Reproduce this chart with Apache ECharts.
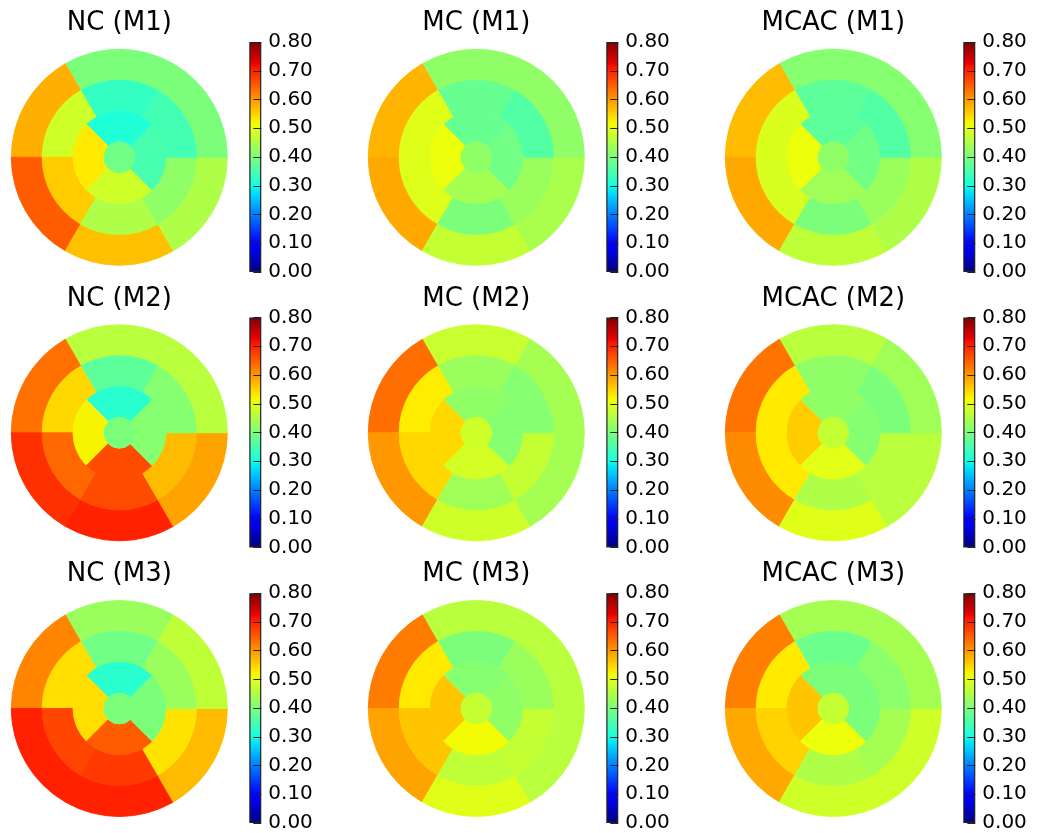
<!DOCTYPE html>
<html>
<head>
<meta charset="utf-8">
<script src="https://cdn.jsdelivr.net/npm/echarts@6/dist/echarts.min.js"></script>
<style>
  html, body { margin: 0; padding: 0; background: #fff; }
  #chart { width: 1039px; height: 833px; }
</style>
</head>
<body>
<div id="chart"></div>
<script>
// Segment order of every 17-value array:
//   basal ring  (6 segments, counter-clockwise from 60°): top, upper-left, lower-left, bottom, lower-right, upper-right
//   mid ring    (6 segments, same order)
//   apical ring (4 segments, counter-clockwise from 45°): top, left, bottom, right
//   apex        (1 segment)
const panelTitles = [
  'NC (M1)', 'MC (M1)', 'MCAC (M1)',
  'NC (M2)', 'MC (M2)', 'MCAC (M2)',
  'NC (M3)', 'MC (M3)', 'MCAC (M3)'
];

const ncM1   = [0.40, 0.58, 0.65, 0.565, 0.45, 0.40,   0.33, 0.48, 0.555, 0.45, 0.42, 0.345,  0.31, 0.53, 0.48, 0.35,   0.39];
const mcM1   = [0.42, 0.575, 0.585, 0.47, 0.445, 0.42, 0.38, 0.497, 0.495, 0.40, 0.43, 0.36,  0.38, 0.51, 0.44, 0.39,   0.42];
const mcacM1 = [0.41, 0.57, 0.585, 0.466, 0.45, 0.41,  0.37, 0.492, 0.49, 0.40, 0.43, 0.36,   0.37, 0.51, 0.435, 0.39,  0.42];

const ncM2   = [0.46, 0.633, 0.687, 0.70, 0.59, 0.46,  0.37, 0.545, 0.64, 0.665, 0.57, 0.41, 0.32, 0.52, 0.665, 0.41,  0.40];
const mcM2   = [0.475, 0.635, 0.60, 0.48, 0.44, 0.44,  0.43, 0.527, 0.545, 0.435, 0.47, 0.41, 0.42, 0.545, 0.485, 0.41, 0.48];
const mcacM2 = [0.46, 0.63, 0.61, 0.497, 0.46, 0.435,  0.42, 0.53, 0.53, 0.45, 0.46, 0.40,    0.42, 0.555, 0.50, 0.41,  0.47];

const ncM3   = [0.43, 0.615, 0.70, 0.70, 0.57, 0.466,  0.39, 0.54, 0.67, 0.68, 0.535, 0.43,  0.32, 0.54, 0.65, 0.40,   0.40];
const mcM3   = [0.46, 0.623, 0.59, 0.497, 0.46, 0.46,  0.40, 0.53, 0.56, 0.466, 0.47, 0.43,  0.41, 0.56, 0.515, 0.42,  0.47];
const mcacM3 = [0.44, 0.62, 0.585, 0.48, 0.48, 0.44,   0.385, 0.53, 0.55, 0.45, 0.44, 0.415, 0.40, 0.56, 0.51, 0.40,   0.47];

const panelValues = [ncM1, mcM1, mcacM1, ncM2, mcM2, mcacM2, ncM3, mcM3, mcacM3];

// Colour scale shared by all panels
const scaleMin = 0;
const scaleMax = 0.8;
const scaleStep = 0.1;

// ---------- layout ----------
const colX = [119.3, 476.3, 833.3];
const rowY = [157.3, 432.8, 708.5];
const R = 108;
const FONT = '"DejaVu Sans", Verdana, sans-serif';

// ring geometry: [first segment, count, inner radius, outer radius, start angle]
const rings = [
  [0, 6, 5 / 7, 1, 60],
  [6, 6, 3 / 7, 5 / 7, 60],
  [12, 4, 1 / 7, 3 / 7, 45],
  [16, 1, 0, 1 / 7, 90]
];

// matplotlib "jet" colormap, piecewise linear per channel
function channel(pts, t) {
  for (let i = 1; i < pts.length; i++) {
    if (t <= pts[i][0]) {
      const [x0, y0] = pts[i - 1], [x1, y1] = pts[i];
      return y0 + (y1 - y0) * (t - x0) / (x1 - x0);
    }
  }
  return pts[pts.length - 1][1];
}
function jet(t) {
  t = Math.max(0, Math.min(1, t));
  const r = channel([[0, 0], [0.35, 0], [0.66, 1], [0.89, 1], [1, 0.5]], t);
  const g = channel([[0, 0], [0.125, 0], [0.375, 1], [0.64, 1], [0.91, 0], [1, 0]], t);
  const b = channel([[0, 0.5], [0.11, 1], [0.34, 1], [0.65, 0], [1, 0]], t);
  const h = v => Math.round(Math.max(0, Math.min(1, v)) * 255).toString(16).padStart(2, '0');
  return '#' + h(r) + h(g) + h(b);
}
const jetColors = [];
for (let i = 0; i <= 100; i++) jetColors.push(jet(i / 100));
const scaleColor = v => jet((v - scaleMin) / (scaleMax - scaleMin));

const series = [];
const pieIndices = [];
const grids = [], xAxes = [], yAxes = [], titles = [];

panelValues.forEach((vals, p) => {
  const cx = colX[p % 3];
  const cy = rowY[Math.floor(p / 3)];

  rings.forEach(([start, n, r0, r1, ang]) => {
    pieIndices.push(series.length);
    series.push({
      type: 'pie',
      center: [cx, cy],
      radius: [r0 * R, r1 * R],
      startAngle: ang,
      clockwise: false,
      avoidLabelOverlap: false,
      silent: true,
      animation: false,
      label: { show: false },
      labelLine: { show: false },
      emphasis: { disabled: true },
      // equal-sized slices; second dimension carries the segment value.
      // A hairline border in the slice's own colour closes anti-aliasing seams.
      data: vals.slice(start, start + n).map(v => ({
        value: [1, v],
        itemStyle: { borderColor: scaleColor(v), borderWidth: 0.9 }
      }))
    });
  });

  // colour bar
  grids.push({ left: cx + 130, top: cy - 115.3, width: 12, height: 230 });
  xAxes.push({ type: 'category', gridIndex: p, data: [''], show: false });
  yAxes.push({
    type: 'value', gridIndex: p, position: 'right', z: 5,
    min: scaleMin, max: scaleMax, interval: scaleStep,
    axisLine: { show: false },
    splitLine: { show: false },
    axisTick: { show: true, inside: true, length: 8, lineStyle: { color: '#222', width: 1 } },
    axisLabel: {
      formatter: v => v.toFixed(2), fontSize: 20, fontFamily: FONT, color: '#000', margin: 7
    }
  });
  series.push({
    type: 'bar', xAxisIndex: p, yAxisIndex: p, barWidth: '100%', silent: true, animation: false,
    data: [scaleMax],
    itemStyle: {
      color: new echarts.graphic.LinearGradient(0, 1, 0, 0,
        jetColors.map((c, i) => ({ offset: i / (jetColors.length - 1), color: c }))),
      borderColor: '#222', borderWidth: 1.2
    }
  });

  titles.push({
    text: panelTitles[p], left: cx, top: cy - 147, textAlign: 'center', padding: 0,
    textStyle: { fontSize: 26, fontWeight: 'normal', fontFamily: FONT, color: '#000' }
  });
});

const chart = echarts.init(document.getElementById('chart'), null, { renderer: 'canvas' });
chart.setOption({
  backgroundColor: '#fff',
  animation: false,
  title: titles,
  grid: grids,
  xAxis: xAxes,
  yAxis: yAxes,
  visualMap: {
    type: 'continuous', show: false, dimension: 1,
    min: scaleMin, max: scaleMax, seriesIndex: pieIndices,
    inRange: { color: jetColors }
  },
  series: series
});
</script>
</body>
</html>
